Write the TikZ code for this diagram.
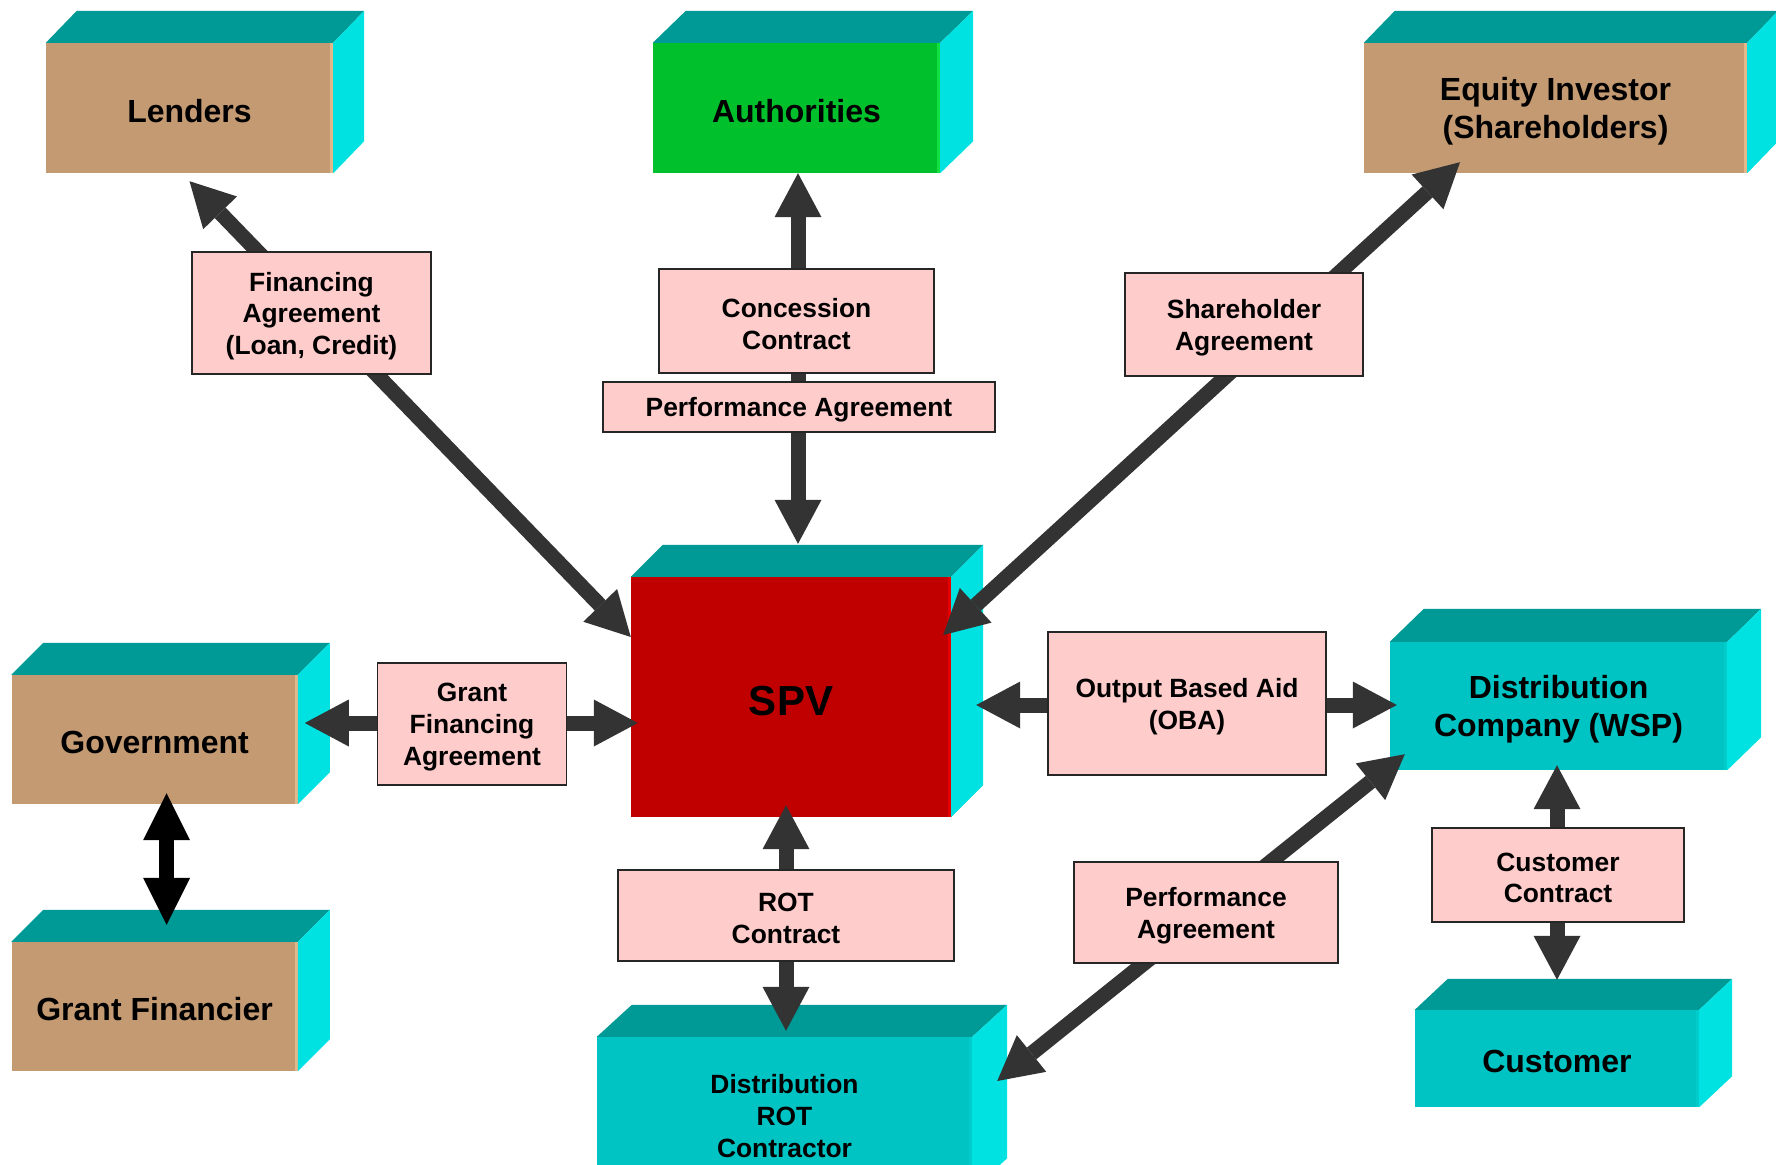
\documentclass[tikz,border=0pt]{standalone}
\usepackage{fontspec}
\setmainfont{Liberation Sans}
\usetikzlibrary{arrows.meta,calc}

\definecolor{boxtan}{HTML}{C49A73}
\definecolor{tanedge}{HTML}{E2B88A}
\definecolor{topteal}{HTML}{009A96}
\definecolor{sidecyan}{HTML}{00E1E1}
\definecolor{frontcyan}{HTML}{00C3C3}
\definecolor{cyanedge}{HTML}{00CCCC}
\definecolor{authgreen}{HTML}{00C12B}
\definecolor{greenedge}{HTML}{10E040}
\definecolor{spvred}{HTML}{C00000}
\definecolor{rededge}{HTML}{E80000}
\definecolor{pinkfill}{HTML}{FFCCCC}
\definecolor{arrowgray}{HTML}{333333}

% top and right faces of a block whose front face is node #1
\newcommand\blockfaces[4]{%
  \fill[#4] ([xshift=-3pt]#1.north east) rectangle (#1.south east);
  \fill[topteal] (#1.north west) -- ++(#2,-#3) -- ([shift={(#2,-#3)}]#1.north east) -- (#1.north east) -- cycle;
  \fill[sidecyan] (#1.north east) -- ++(#2,-#3) -- ([shift={(#2,-#3)}]#1.south east) -- (#1.south east) -- cycle;
}

\tikzset{
  entity/.style={inner sep=0pt},
  entitytext/.style={inner sep=0pt, align=center, yshift=-3pt,
    font=\bfseries\fontsize{32}{38.5}\selectfont},
  agreement/.style={draw=black!85, line width=1.5pt, fill=pinkfill, inner sep=0pt},
  agreementtext/.style={inner sep=0pt, align=center, yshift=-3pt,
    font=\bfseries\fontsize{26.4}{31.7}\selectfont},
  link/.style={draw=arrowgray, line width=15pt,
    >={Triangle[width=47pt,length=44pt,line width=0pt]}, <->},
  blacklink/.style={draw=black, line width=15pt,
    >={Triangle[width=47pt,length=47pt,line width=0pt]}, <->},
}

\begin{document}
\begin{tikzpicture}[x=1pt,y=-1pt]
\path[use as bounding box, fill=white] (0,0) rectangle (1776,1164);
\clip (0,0) rectangle (1776,1164);

% parties
\node[entity, fill=boxtan, minimum width=287pt, minimum height=130pt,
  label={[entitytext]center:Lenders}] (lenders) at (189.5,108) {};
\blockfaces{lenders}{31}{32}{tanedge}
\node[entity, fill=authgreen, minimum width=287pt, minimum height=130pt,
  label={[entitytext]center:Authorities}] (auth) at (796.5,108) {};
\blockfaces{auth}{33}{32}{greenedge}
\node[entity, fill=boxtan, minimum width=383pt, minimum height=130pt,
  label={[entitytext]center:Equity Investor\\(Shareholders)}] (equity) at (1555.5,108) {};
\blockfaces{equity}{31}{32}{tanedge}
\node[entity, fill=spvred, minimum width=320pt, minimum height=240pt,
  label={[entitytext, yshift=-1pt, font=\bfseries\fontsize{42}{48}\selectfont]center:SPV}] (spv) at (791,697) {};
\blockfaces{spv}{32}{32}{rededge}
\node[entity, fill=boxtan, minimum width=286pt, minimum height=129pt,
  label={[entitytext]center:Government}] (gov) at (154.6,739.5) {};
\blockfaces{gov}{32}{32}{tanedge}
\node[entity, fill=boxtan, minimum width=286pt, minimum height=129pt,
  label={[entitytext]center:Grant Financier}] (gf) at (154.6,1006.5) {};
\blockfaces{gf}{32}{32}{tanedge}
\node[entity, fill=frontcyan, minimum width=375pt, minimum height=153pt,
  label={[entitytext, font=\bfseries\fontsize{26.4}{32}\selectfont]center:Distribution\\ROT\\Contractor}] (rotc) at (784.5,1113.5) {};
\blockfaces{rotc}{35}{32}{cyanedge}
\node[entity, fill=frontcyan, minimum width=337pt, minimum height=128pt,
  label={[entitytext]center:Distribution\\Company (WSP)}] (wsp) at (1558.5,706) {};
\blockfaces{wsp}{34}{33}{cyanedge}
\node[entity, fill=frontcyan, minimum width=284pt, minimum height=97pt,
  label={[entitytext]center:Customer}] (cust) at (1557,1058.5) {};
\blockfaces{cust}{33}{31}{cyanedge}

% relations
\draw[link] ([yshift=-8pt]lenders.south) -- ([yshift=60pt]spv.west);
\draw[link] ([xshift=1.5pt]auth.south) -- ([xshift=7pt,yshift=33pt]spv.north);
\draw[link] ([xshift=-95.5pt,yshift=11pt]equity.south) -- ([xshift=-8pt,yshift=62pt]spv.east);
\draw[link] ([xshift=7pt,yshift=16.5pt]gov.east) -- ([xshift=7pt,yshift=-26pt]spv.west);
\draw[link] ([xshift=25pt,yshift=-8pt]spv.east) -- ([xshift=7pt,yshift=1pt]wsp.west);
\draw[link] ([xshift=-5pt,yshift=12pt]spv.south) -- ([xshift=1.5pt,yshift=6pt]rotc.north);
\draw[link] ([xshift=25pt,yshift=32.5pt]rotc.east) -- ([xshift=15pt,yshift=16pt]wsp.south west);
\draw[link] ([xshift=-1.5pt,yshift=5pt]wsp.south) -- ([yshift=30pt]cust.north);
\draw[blacklink] ([xshift=12pt,yshift=11pt]gov.south) -- ([xshift=12pt,yshift=17pt]gf.north);

% agreements
\node[agreement, minimum width=239pt, minimum height=122pt,
  label={[agreementtext]center:Financing\\Agreement\\(Loan, Credit)}] (fin) at (311.5,313) {};
\node[agreement, minimum width=275pt, minimum height=104pt,
  label={[agreementtext]center:Concession\\Contract}] (conc) at (796.5,321) {};
\node[agreement, minimum width=392pt, minimum height=50pt,
  label={[agreementtext]center:Performance Agreement}] (perfa) at (799,407) {};
\node[agreement, minimum width=238pt, minimum height=103pt,
  label={[agreementtext]center:Shareholder\\Agreement}] (share) at (1244,324.5) {};
\node[agreement, minimum width=189pt, minimum height=122pt,
  label={[agreementtext]center:Grant\\Financing\\Agreement}] (grant) at (472,724) {};
\node[agreement, minimum width=278pt, minimum height=143pt,
  label={[agreementtext]center:Output Based Aid\\(OBA)}] (oba) at (1187,703.5) {};
\node[agreement, minimum width=336pt, minimum height=91pt,
  label={[agreementtext]center:ROT\\Contract}] (rot) at (786,915.5) {};
\node[agreement, minimum width=264pt, minimum height=101pt,
  label={[agreementtext]center:Performance\\Agreement}] (perfb) at (1206,912.5) {};
\node[agreement, minimum width=252pt, minimum height=94pt,
  label={[agreementtext]center:Customer\\Contract}] (custc) at (1558,875) {};
\end{tikzpicture}
\end{document}
